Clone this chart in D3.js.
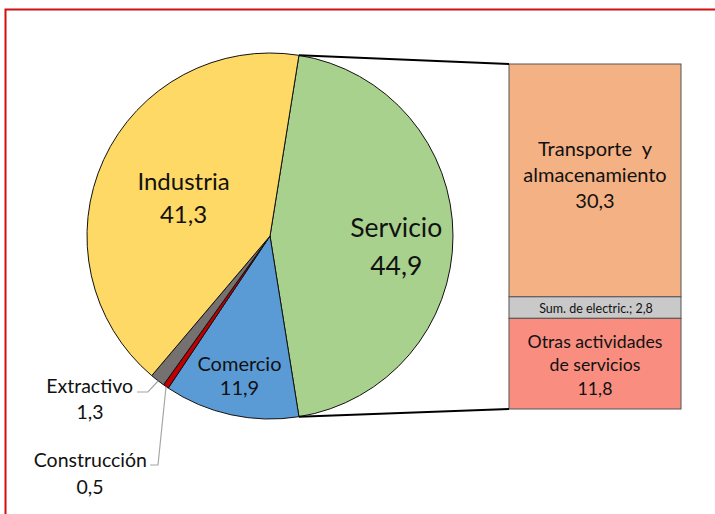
<!DOCTYPE html>
<html><head><meta charset="utf-8">
<script src="https://cdn.jsdelivr.net/npm/d3@7"></script>
<style>body{margin:0;background:#fff}svg{display:block;font-family:Lato,"Open Sans",sans-serif}</style>
</head><body><svg id="c" width="715" height="514"></svg>
<script>
// Data
const sectors = ["Servicio","Comercio","Construcción","Extractivo","Industria"];
const sectorValues = [44.9, 11.9, 0.5, 1.3, 41.3];
const sectorLabels = ["44,9","11,9","0,5","1,3","41,3"];
const sectorColors = ["#A9D18E","#5B9BD5","#C00000","#767171","#FFD966"];
const subSectors = ["Transporte  y almacenamiento","Sum. de electric.","Otras actividades de servicios"];
const subValues = [30.3, 2.8, 11.8];
const subLabels = ["30,3","2,8","11,8"];
const subColors = ["#F4B183","#C9C9C9","#F98E80"];

const svg = d3.select("#c");
// frame
svg.append("rect").attr("x",5.5).attr("y",9.5).attr("width",740).attr("height",540)
  .attr("fill","none").attr("stroke","#D01010").attr("stroke-width",2);

const cx = 270, cy = 236, R = 183;
const total = d3.sum(sectorValues);
const servAngle = sectorValues[0]/total*2*Math.PI;
const start = Math.PI/2 - servAngle/2;
const pie = d3.pie().sort(null).value(d=>d).startAngle(start).endAngle(start+2*Math.PI);
const arcs = pie(sectorValues);
const arc = d3.arc().innerRadius(0).outerRadius(R);
const g = svg.append("g").attr("transform",`translate(${cx},${cy})`);
g.selectAll("path").data(arcs).join("path")
  .attr("d",arc).attr("fill",(d,i)=>sectorColors[i])
  .attr("stroke","#111").attr("stroke-width",1);

// bar of pie
const barX = 509, barW = 172, barTop = 64, barBot = 409;
const y = d3.scaleLinear().domain([0, d3.sum(subValues)]).range([barTop, barBot]);
let cum = 0;
const segs = subValues.map(v=>{const s={y0:cum,y1:cum+v};cum+=v;return s;});
svg.selectAll("rect.seg").data(segs).join("rect").attr("class","seg")
  .attr("x",barX).attr("width",barW)
  .attr("y",d=>y(d.y0)).attr("height",d=>y(d.y1)-y(d.y0))
  .attr("fill",(d,i)=>subColors[i]).attr("stroke","#555").attr("stroke-width",1);

// connector lines
const sa = arcs[0].startAngle, ea = arcs[0].endAngle;
const p1 = [cx+R*Math.sin(sa), cy-R*Math.cos(sa)];
const p2 = [cx+R*Math.sin(ea), cy-R*Math.cos(ea)];
svg.append("line").attr("x1",p1[0]).attr("y1",p1[1]).attr("x2",barX).attr("y2",y(0))
  .attr("stroke","#000").attr("stroke-width",2);
svg.append("line").attr("x1",p2[0]).attr("y1",p2[1]).attr("x2",barX).attr("y2",y(d3.sum(subValues)))
  .attr("stroke","#000").attr("stroke-width",2);

function label(lines, x, yc, size, lh, anchor){
  const t = svg.append("text").attr("x",x).attr("y",yc - (lines.length-1)*lh/2)
    .attr("font-size",size).attr("fill","#111").attr("text-anchor",anchor||"middle")
    .attr("dominant-baseline","central").style("white-space","pre");
  lines.forEach((l,i)=>t.append("tspan").attr("x",x).attr("dy",i===0?0:lh).text(l));
}
function centroidAt(i, f){
  const a=(arcs[i].startAngle+arcs[i].endAngle)/2;
  return [cx+R*f*Math.sin(a), cy-R*f*Math.cos(a)];
}
let c;
c = centroidAt(4,0.52); label([sectors[4], sectorLabels[4]], c[0], c[1], 24, 33);
c = centroidAt(0,0.69); label([sectors[0], sectorLabels[0]], c[0], c[1]+10, 26.5, 38);
c = centroidAt(1,0.78); label([sectors[1], sectorLabels[1]], c[0], c[1], 20, 24);

// outside labels with leaders
svg.append("polyline").attr("points","137,392 148,392 158,381").attr("fill","none").attr("stroke","#A6A6A6").attr("stroke-width",1.2);
svg.append("polyline").attr("points","150,465 158,465 166,387").attr("fill","none").attr("stroke","#A6A6A6").attr("stroke-width",1.2);
label([sectors[3]], 133, 385, 19.5, 26, "end");
label([sectorLabels[3]], 90, 411, 19.5, 26);
label([sectors[2]], 147, 459, 19.5, 26, "end");
label([sectorLabels[2]], 90, 486, 19.5, 26);

// bar labels
const bx = barX + barW/2;
label(["Transporte\u00A0 y","almacenamiento", subLabels[0]], bx, 174, 20, 26);
label([subSectors[1]+"; "+subLabels[1]], bx+1, y((segs[1].y0+segs[1].y1)/2), 12.5, 20);
label(["Otras actividades","de servicios", subLabels[2]], bx, 364, 17.7, 23.5);
</script></body></html>
